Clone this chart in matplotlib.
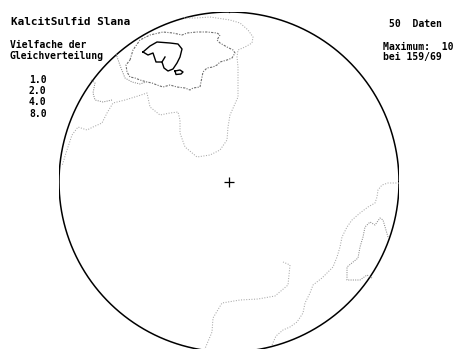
import numpy as np
import matplotlib
matplotlib.use("Agg")
import matplotlib.pyplot as plt

# ---------------- data (projection coordinates, primitive radius = 170) ----
R = 170
title = "KalcitSulfid Slana"
n_data = 50
max_value = 10
max_at = "159/69"
levels = ["1.0", "2.0", "4.0", "8.0"]

# level 1.0 : upper-left cluster
c1a_x = [-45, -33, -19, 1, 11, 19, 24, 23, 16, 9, 8, 9, 9, 9, 5, 1, -1, -2, -9, -19, -32,
         -44, -49, -49, -51, -59, -69, -79, -82, -91, -104, -116, -122, -127, -136, -142,
         -151, -157, -163, -167]
c1a_y = [164, 164, 165, 162, 159, 152, 145, 139, 135, 132, 125, 115, 102, 85, 76, 67, 55,
         42, 32, 27, 25, 35, 49, 62, 70, 69, 67, 75, 89, 86, 82, 79, 69, 59, 55, 52, 55,
         47, 29, 16]
# level 1.0 : lower-right cluster
c1b_x = [170, 159, 153, 149, 148, 146, 139, 131, 123, 118, 113, 111, 108, 104, 98, 93,
         84, 81, 76, 74, 68, 61, 54, 47, 43]
c1b_y = [-1, -1, -3, -8, -15, -21, -25, -31, -38, -45, -55, -65, -75, -85, -91, -96,
         -103, -111, -121, -131, -140, -145, -148, -154, -163]
c1c_x = [-25, -17, -16, -7, 11, 29, 46, 59, 61, 54]
c1c_y = [-169, -150, -136, -121, -118, -117, -114, -103, -83, -80]

# level 2.0
c2a_x = [-138, -134, -136, -134, -126, -117]
c2a_y = [102, 99, 89, 82, 80, 82]
c2b_x = [-113, -108, -104, -97, -89, -83]
c2b_y = [128, 114, 104, 100, 98, 100]
c2c_x = [159, 154, 151, 146, 141, 136, 134, 131, 129, 118, 118, 131, 138, 143]
c2c_y = [-55, -38, -36, -43, -40, -45, -55, -65, -76, -85, -98, -98, -93, -96]

# level 4.0
c4_x = [-99, -96, -89, -79, -66, -56, -47, -42, -32, -22, -12, -9, -12, -9, -2, 4, 6, 3,
        -2, -9, -12, -16, -22, -26, -27, -29, -36, -39, -44, -52, -59, -66, -72, -77,
        -82, -89, -94, -99, -102, -103, -99]
c4_y = [122, 132, 142, 147, 150, 149, 147, 149, 150, 150, 149, 147, 142, 139, 135, 132,
        129, 124, 122, 120, 117, 115, 114, 110, 105, 95, 94, 92, 94, 95, 97, 95, 97, 99,
        100, 102, 104, 105, 110, 117, 122]

# level 8.0
c8a_x = [-86, -79, -72, -59, -51, -47, -49, -52, -56, -61, -65, -67, -73, -76, -81, -86]
c8a_y = [130, 136, 140, 139, 138, 133, 125, 119, 113, 111, 114, 120, 120, 129, 127, 130]
c8b_x = [-67, -64]
c8b_y = [120, 125]
c8c_x = [-54, -49, -46, -48, -53, -54]
c8c_y = [111, 112, 110, 108, 107.5, 111]

# ---------------- figure ----------------
W, H = 455, 349
fig = plt.figure(figsize=(W / 100, H / 100), dpi=100)
fig.patch.set_facecolor("white")
cx_px, cy_px = 229, 182
ax = fig.add_axes([(cx_px - R) / W, (H - cy_px - R) / H, 2 * R / W, 2 * R / H])
ax.set_xlim(-R, R)
ax.set_ylim(-R, R)
ax.axis("off")

# primitive circle
t = np.linspace(0, 2 * np.pi, 721)
ax.plot(R * np.cos(t), R * np.sin(t), color="black", lw=1.1)
ax.plot([0, 0], [R, R + 4], color="black", lw=0.9)
ax.plot([0], [0], marker="+", color="black", markersize=7.5, mew=0.9)

st1 = dict(color="#a8a8a8", lw=0.75, ls=(0, (1, 1.5)))
st2 = dict(color="#8c8c8c", lw=0.75, ls=(0, (1, 1.2)))
st4 = dict(color="#6e6e6e", lw=0.8, ls=(0, (2, 1.2, 1, 1.2)))
st8 = dict(color="black", lw=1.0, ls="-")

for xs, ys in [(c1a_x, c1a_y), (c1b_x, c1b_y), (c1c_x, c1c_y)]:
    ax.plot(xs, ys, **st1)
for xs, ys in [(c2a_x, c2a_y), (c2b_x, c2b_y), (c2c_x, c2c_y)]:
    ax.plot(xs, ys, **st2)
ax.plot(c4_x, c4_y, **st4)
for xs, ys in [(c8a_x, c8a_y), (c8b_x, c8b_y), (c8c_x, c8c_y)]:
    ax.plot(xs, ys, **st8)

# ---------------- text ----------------
fp = dict(family="DejaVu Sans Mono", weight="bold", fontsize=7.0, color="black",
          va="baseline", ha="left")


def ftext(x, y, s, **kw):
    d = dict(fp)
    d.update(kw)
    fig.text(x / W, 1 - y / H, s, **d)


ftext(11, 25, title, fontsize=7.9)
ftext(10, 48, "Vielfache der")
ftext(10, 59, "Gleichverteilung")
for i, lv in enumerate(levels):
    ftext(29, 83.3 + i * 11.1, lv)
ftext(389, 27.3, f"{n_data}  Daten")
ftext(383, 50, f"Maximum:  {max_value}")
ftext(383, 60, f"bei {max_at}")

fig.savefig("out.png", dpi=100, facecolor="white")
